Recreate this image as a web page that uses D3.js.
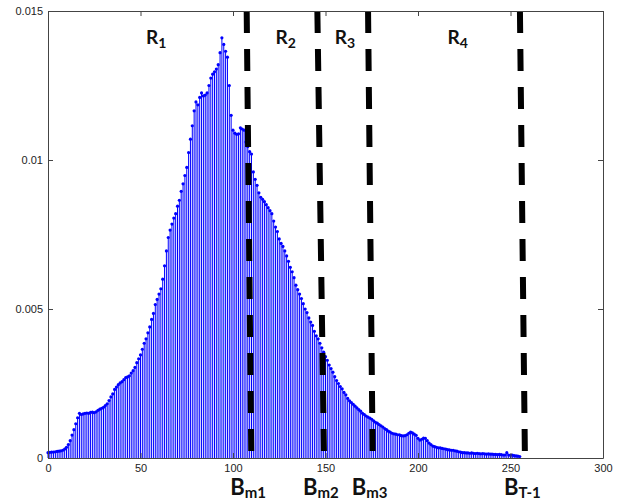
<!DOCTYPE html>
<html>
<head>
<meta charset="utf-8">
<script src="https://cdn.jsdelivr.net/npm/d3@7"></script>
<style>
  body { margin: 0; background: #fff; }
  .tick text { font-family: "Liberation Sans", Arial, sans-serif; font-size: 11px; fill: #222; }
</style>
</head>
<body>
<svg id="chart"></svg>
<script>
// histogram of grey levels 0..255, values in units of 1e-4
const hist = [
  1.8, 1.9, 2.0, 2.0, 2.1, 2.2, 2.3, 2.4, 2.6, 3.0,
  3.6, 4.5, 5.8, 7.7, 9.5, 11.5, 13.5, 15.0, 14.6, 14.8,
  15.0, 15.1, 15.0, 15.3, 15.4, 15.2, 15.5, 16.0, 16.4, 16.7,
  17.0, 17.6, 18.2, 19.3, 20.5, 21.5, 23.0, 23.8, 24.6, 25.2,
  25.6, 26.3, 27.0, 27.2, 27.6, 28.5, 29.3, 30.4, 32.0, 33.3,
  34.6, 36.5, 38.5, 40.0, 42.0, 44.0, 46.5, 48.5, 51.5, 53.2,
  55.0, 56.8, 60.0, 64.5, 69.5, 74.0, 76.5, 78.5, 80.5, 82.0,
  84.5, 86.5, 89.5, 92.0, 94.8, 97.5, 102.5, 107.0, 111.5, 116.5,
  119.5, 118.5, 121.0, 122.5, 121.5, 121.8, 122.5, 125.0, 127.5, 128.8,
  129.6, 130.5, 132.0, 136.0, 141.0, 138.8, 136.5, 134.5, 125.0, 115.0,
  110.0, 109.0, 108.6, 108.8, 110.8, 110.4, 110.0, 106.0, 104.5, 102.8,
  102.0, 96.0, 93.5, 91.5, 89.0, 87.5, 86.8, 86.0, 85.0, 84.0,
  83.0, 82.0, 79.5, 77.5, 76.0, 73.5, 72.0, 71.0, 69.5, 67.8,
  66.0, 64.0, 62.5, 60.5, 58.0, 56.5, 55.0, 53.5, 51.8, 50.0,
  48.8, 47.0, 45.6, 44.5, 42.5, 41.0, 40.0, 38.5, 37.0, 35.5,
  34.0, 32.8, 31.2, 30.0, 28.8, 27.3, 26.0, 25.0, 24.0, 23.2,
  22.0, 21.2, 20.0, 19.2, 18.6, 18.0, 17.4, 16.8, 16.2, 15.7,
  15.0, 14.6, 14.1, 13.7, 13.4, 13.0, 12.5, 12.0, 11.7, 11.2,
  10.8, 10.4, 9.9, 9.5, 9.0, 8.7, 8.3, 8.1, 8.0, 7.8,
  7.8, 7.5, 7.4, 7.5, 7.8, 8.3, 8.7, 8.4, 8.0, 7.6,
  6.6, 6.0, 6.3, 6.7, 6.6, 5.8, 5.0, 4.5, 4.0, 3.8,
  3.6, 3.4, 3.4, 3.2, 3.1, 3.0, 2.8, 2.7, 2.6, 2.6,
  2.4, 2.3, 2.1, 2.0, 1.8, 1.8, 1.7, 1.7, 1.6, 1.7,
  1.6, 1.5, 1.6, 1.5, 1.4, 1.5, 1.4, 1.3, 1.4, 1.3,
  1.3, 1.2, 1.2, 1.1, 1.2, 1.1, 1.0, 1.0, 1.8, 1.0,
  0.9, 1.0, 0.8, 0.7, 0.6, 0.5
]
const xTicks = [0, 50, 100, 150, 200, 250, 300]
const yTicks = [0, 0.005, 0.01, 0.015]
const yTickLabels = ['0', '0.005', '0.01', '0.015']

// region boundaries (grey level at top / bottom of the hand drawn dashes)
const boundNames = [['B', 'm1'], ['B', 'm2'], ['B', 'm3'], ['B', 'T-1']]
const boundTop = [107.4, 145.6, 173.0, 255.1]
const boundBottom = [109.9, 149.2, 175.5, 257.8]
const regionNames = [['R', '1'], ['R', '2'], ['R', '3'], ['R', '4']]
const regionAt = [53, 123, 155, 216]

const width = 622, height = 504
const margin = { top: 11, right: 19, bottom: 46, left: 48 }

const svg = d3.select('#chart').attr('width', width).attr('height', height)

const x = d3.scaleLinear().domain([0, 300]).range([margin.left, width - margin.right])
const y = d3.scaleLinear().domain([0, 0.015]).range([height - margin.bottom, margin.top])

const data = hist.map((v, i) => ({ level: i, p: v / 1e4 }))

// stems
svg.append('g')
  .selectAll('line')
  .data(data)
  .join('line')
  .attr('x1', d => x(d.level))
  .attr('x2', d => x(d.level))
  .attr('y1', y(0))
  .attr('y2', d => y(d.p))
  .attr('stroke', '#0000ff')
  .attr('stroke-width', 1)

// markers
svg.append('g')
  .selectAll('circle')
  .data(data)
  .join('circle')
  .attr('cx', d => x(d.level))
  .attr('cy', d => y(d.p))
  .attr('r', 1.6)
  .attr('fill', '#0000ff')

// dashed boundaries
svg.append('g')
  .selectAll('line')
  .data(boundTop)
  .join('line')
  .attr('x1', d => x(d))
  .attr('x2', (d, i) => x(boundBottom[i]))
  .attr('y1', y(0.015))
  .attr('y2', y(0))
  .attr('stroke', '#000')
  .attr('stroke-width', 6)
  .attr('stroke-dasharray', '22,16')

// axes box with inward ticks
const gx = svg.append('g')
  .attr('transform', `translate(0,${y(0)})`)
  .call(d3.axisBottom(x).tickValues(xTicks).tickSizeInner(-5).tickSizeOuter(0).tickPadding(6))
const gxTop = svg.append('g')
  .attr('transform', `translate(0,${y(0.015)})`)
  .call(d3.axisTop(x).tickValues(xTicks).tickSizeInner(-5).tickSizeOuter(0).tickFormat(''))
const gy = svg.append('g')
  .attr('transform', `translate(${x(0)},0)`)
  .call(d3.axisLeft(y).tickValues(yTicks).tickSizeInner(-5).tickSizeOuter(0).tickPadding(5)
    .tickFormat((d, i) => yTickLabels[i]))
const gyRight = svg.append('g')
  .attr('transform', `translate(${x(300)},0)`)
  .call(d3.axisRight(y).tickValues(yTicks).tickSizeInner(-5).tickSizeOuter(0).tickFormat(''))

svg.selectAll('.domain').attr('stroke', '#444')
svg.selectAll('.tick line').attr('stroke', '#444')

// region labels
const rText = svg.append('g')
  .selectAll('text')
  .data(regionNames)
  .join('text')
  .attr('x', (d, i) => x(regionAt[i]))
  .attr('y', 44)
  .style('font-family', 'Lato, "Open Sans", sans-serif')
  .style('font-weight', 'bold')
  .style('font-size', '19px')
  .style('fill', '#111')
rText.append('tspan').text(d => d[0])
rText.append('tspan').attr('dy', 4).style('font-size', '14px').text(d => d[1])

// boundary labels
const bText = svg.append('g')
  .selectAll('text')
  .data(boundNames)
  .join('text')
  .attr('x', (d, i) => x(boundBottom[i]) - 21)
  .attr('y', 495)
  .style('font-family', 'Lato, "Open Sans", sans-serif')
  .style('font-weight', 'bold')
  .style('font-size', '22px')
  .style('fill', '#111')
bText.append('tspan').text(d => d[0])
bText.append('tspan').attr('dy', 3).style('font-size', '15px').text(d => d[1])
</script>
</body>
</html>
